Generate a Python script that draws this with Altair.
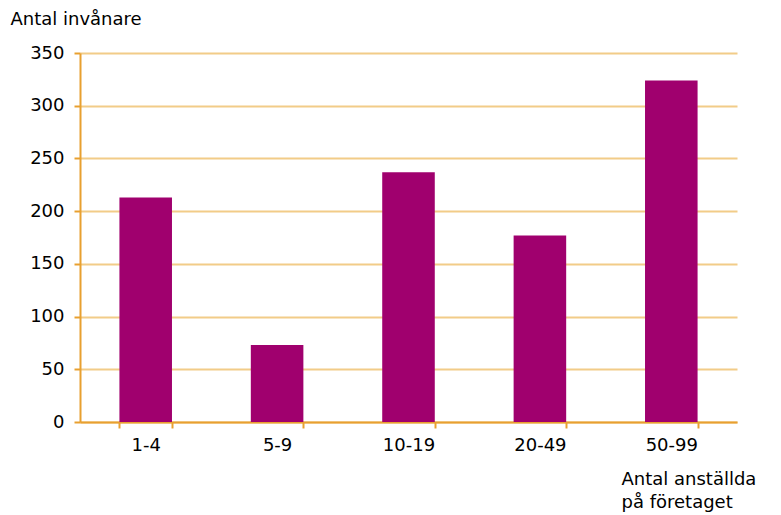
import altair as alt
import pandas as pd

categories = ["1-4", "5-9", "10-19", "20-49", "50-99"]
values = [213, 73, 237, 177, 324]
y_ticks = [0, 50, 100, 150, 200, 250, 300, 350]

df = pd.DataFrame({"cat": categories, "val": values})

FONT = "DejaVu Sans"
FS = 18
AXIS_COLOR = "#E8A030"
GRID_COLOR = "#F2CC88"
BAR_COLOR = "#A0006E"

chart = alt.Chart(df).mark_bar(color=BAR_COLOR).encode(
    x=alt.X(
        "cat:N",
        sort=categories,
        scale=alt.Scale(paddingInner=0.6, paddingOuter=0.3),
        axis=alt.Axis(
            title=["Antal anställda", "på företaget"],
            titleFont=FONT, titleFontSize=FS, titleFontWeight="normal", titleColor="black",
            titleAlign="left", titleBaseline="alphabetic", titleX=541, titleY=62, titleAnchor="start",
            titleLineHeight=23,
            labelFont=FONT, labelFontSize=FS, labelColor="black", labelAngle=0, labelPadding=8,
            domainColor=AXIS_COLOR, domainWidth=2, tickColor=AXIS_COLOR, tickWidth=2, tickSize=6,
            tickBand="extent", grid=False,
        ),
    ),
    y=alt.Y(
        "val:Q",
        scale=alt.Scale(domain=[0, 350], nice=False),
        axis=alt.Axis(
            values=y_ticks,
            title="Antal invånare",
            titleFont=FONT, titleFontSize=FS, titleFontWeight="normal", titleColor="black",
            titleAngle=0, titleAlign="left", titleBaseline="middle", titleX=-70, titleY=-34,
            labelFont=FONT, labelFontSize=FS, labelColor="black", labelPadding=10,
            domainColor=AXIS_COLOR, domainWidth=2, tickColor=AXIS_COLOR, tickWidth=2, tickSize=6,
            grid=True, gridColor=GRID_COLOR, gridWidth=2,
        ),
    ),
).properties(
    width=657,
    height=369,
    autosize=alt.AutoSizeParams(type="none"),
    padding={"left": 72, "top": 45, "right": 28, "bottom": 93},
).configure_view(stroke=None)

chart.save("out.html", embed_options={"renderer": "svg", "actions": False})
